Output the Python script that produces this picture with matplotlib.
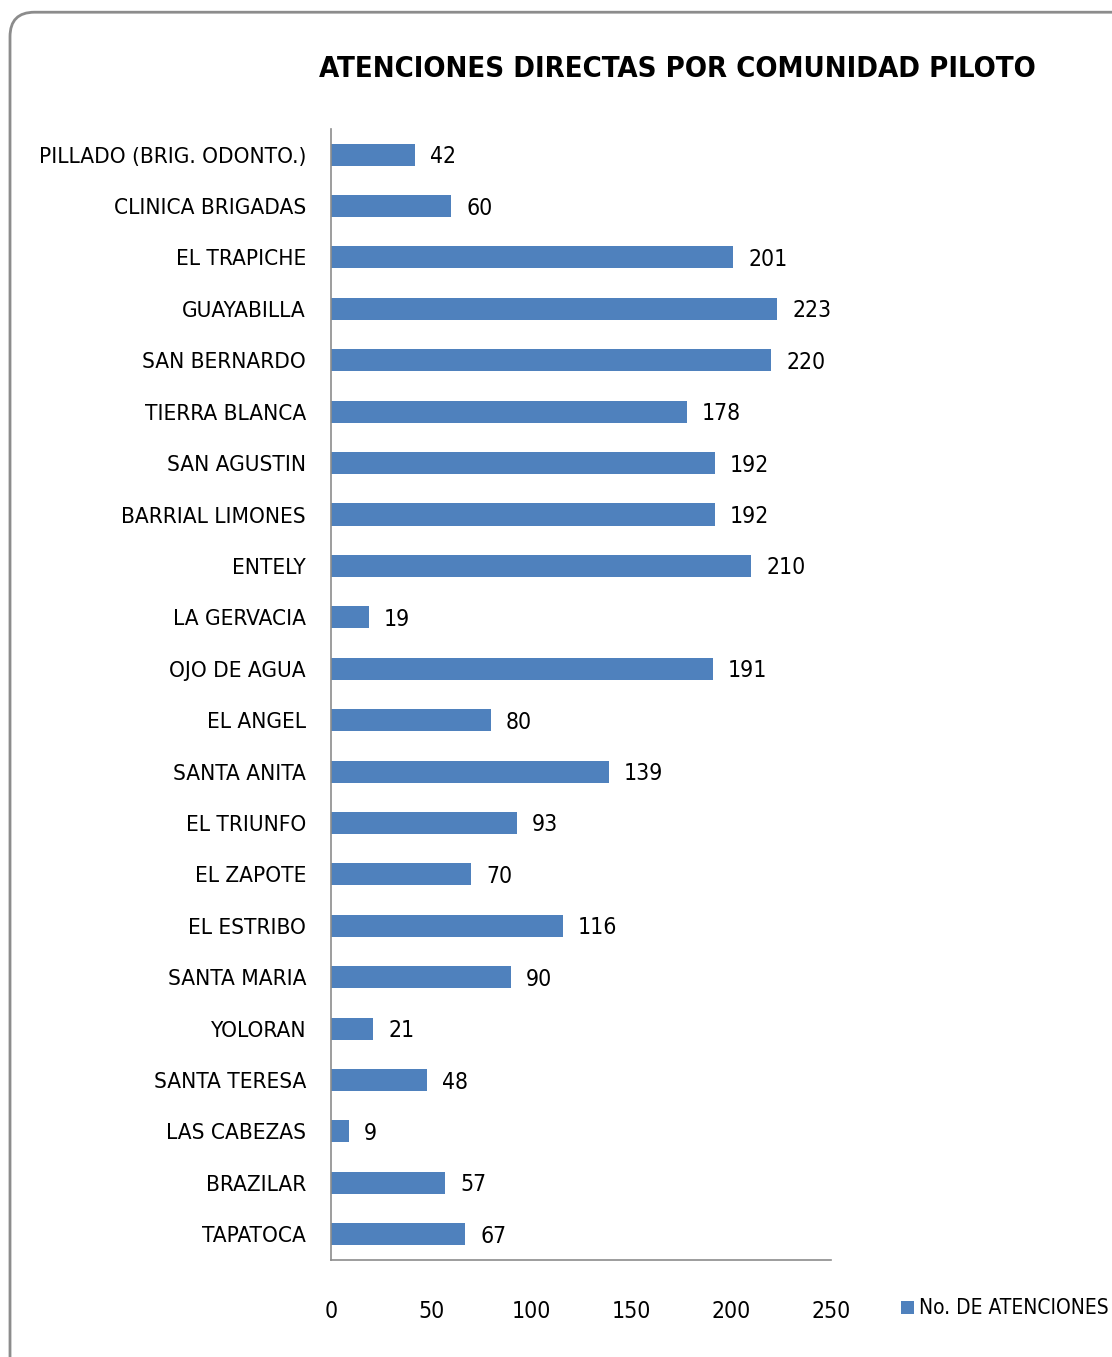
import matplotlib
matplotlib.use('Agg')
import matplotlib.pyplot as plt
from matplotlib.patches import FancyBboxPatch

plt.rcParams['font.family'] = ['DejaVu Sans']
plt.rcParams['font.stretch'] = 'condensed'

comunidades = ['PILLADO (BRIG. ODONTO.)', 'CLINICA BRIGADAS', 'EL TRAPICHE', 'GUAYABILLA',
               'SAN BERNARDO', 'TIERRA BLANCA', 'SAN AGUSTIN', 'BARRIAL LIMONES',
               'ENTELY', 'LA GERVACIA', 'OJO DE AGUA', 'EL ANGEL', 'SANTA ANITA',
               'EL TRIUNFO', 'EL ZAPOTE', 'EL ESTRIBO', 'SANTA MARIA', 'YOLORAN',
               'SANTA TERESA', 'LAS CABEZAS', 'BRAZILAR', 'TAPATOCA']
atenciones = [42, 60, 201, 223, 220, 178, 192, 192, 210, 19, 191, 80, 139,
              93, 70, 116, 90, 21, 48, 9, 57, 67]
xticks = [0, 50, 100, 150, 200, 250]

azul = '#4F81BD'

fig = plt.figure(figsize=(11.12, 13.57), dpi=100)

# marco redondeado
marco = FancyBboxPatch((0.009, -0.05), 1.05, 1.041, boxstyle='round,pad=0,rounding_size=0.022',
                       transform=fig.transFigure, facecolor='none', edgecolor='#8c8c8c',
                       linewidth=2, mutation_aspect=1112 / 1357, zorder=-1)
fig.patches.append(marco)

ax = fig.add_axes([0.2977, 0.0715, 0.4496, 0.8335])
ax.set_facecolor('none')

pos = list(range(len(comunidades)))
ax.barh(pos, atenciones, height=0.43, color=azul)
for p, v in zip(pos, atenciones):
    ax.annotate(str(v), (v, p), xytext=(15, -2), textcoords='offset pixels',
                va='center', ha='left', fontsize=16.5)

ax.set_ylim(len(comunidades) - 0.5, -0.5)
ax.set_xlim(0, 250)
ax.set_yticks(pos)
ax.set_yticklabels(comunidades, fontsize=16.2)
ax.set_xticks(xticks)
ax.set_xticklabels([str(t) for t in xticks], fontsize=16.5)
ax.tick_params(axis='y', length=0, pad=18)
ax.tick_params(axis='x', length=0, pad=29)

for s in ['top', 'right']:
    ax.spines[s].set_visible(False)
for s in ['left', 'bottom']:
    ax.spines[s].set_color('#8c8c8c')
    ax.spines[s].set_linewidth(1.2)

fig.text(0.609, 0.949, 'ATENCIONES DIRECTAS POR COMUNIDAD PILOTO', ha='center', va='center',
         fontsize=21, fontweight='bold')

# leyenda
fig.patches.append(plt.Rectangle((0.810, 0.0315), 0.0115, 0.0095, transform=fig.transFigure,
                                 facecolor=azul, edgecolor='none'))
fig.text(0.826, 0.036, 'No. DE ATENCIONES', ha='left', va='center', fontsize=15)

fig.savefig('out.png', dpi=100)
